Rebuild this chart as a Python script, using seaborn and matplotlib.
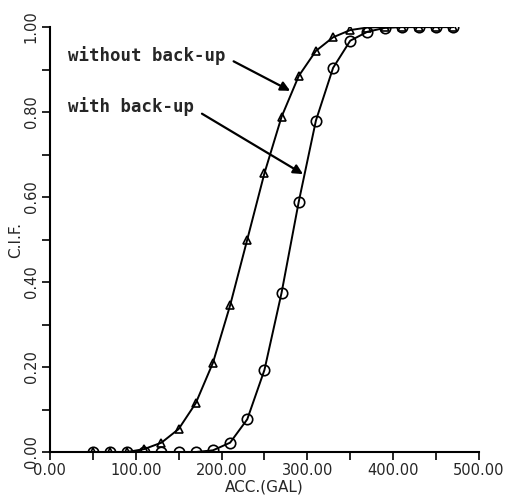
import matplotlib
matplotlib.use("Agg")
import matplotlib.pyplot as plt
from matplotlib.ticker import MultipleLocator, FormatStrFormatter
import seaborn as sns

# acceleration (gal) and C.I.F. values
acc = [50, 70, 90, 110, 130, 150, 170, 190, 210, 230, 250,
       270, 290, 310, 330, 350, 370, 390, 410, 430, 450, 470]
cif_without = [0.0, 0.0, 0.0, 0.007, 0.022, 0.054, 0.115, 0.21, 0.345, 0.50, 0.656,
               0.789, 0.885, 0.944, 0.976, 0.993, 0.999, 1.0, 1.0, 1.0, 1.0, 1.0]
cif_with = [0.0, 0.0, 0.0, 0.0, 0.0, 0.0, 0.0, 0.004, 0.022, 0.077, 0.193,
            0.375, 0.589, 0.78, 0.904, 0.968, 0.989, 0.998, 1.0, 1.0, 1.0, 1.0]

sns.set_style("ticks")
plt.rcParams["font.family"] = ["DejaVu Sans", "DejaVu Sans Mono"]

fig = plt.figure(figsize=(5.09, 4.97), dpi=100)
ax = fig.add_axes([0.098, 0.0905, 0.843, 0.855])

sns.lineplot(x=acc, y=cif_without, ax=ax, color="black", lw=1.4,
             marker="^", markersize=6, markerfacecolor="none",
             markeredgecolor="black", markeredgewidth=1.2)
sns.lineplot(x=acc, y=cif_with, ax=ax, color="black", lw=1.4,
             marker="o", markersize=7.5, markerfacecolor="none",
             markeredgecolor="black", markeredgewidth=1.2)

ax.set_xlim(0, 500)
ax.set_ylim(0, 1.0)
ax.xaxis.set_major_locator(MultipleLocator(100))
ax.xaxis.set_minor_locator(MultipleLocator(50))
ax.yaxis.set_major_locator(MultipleLocator(0.2))
ax.yaxis.set_minor_locator(MultipleLocator(0.1))
ax.xaxis.set_major_formatter(FormatStrFormatter("%.2f"))
ax.yaxis.set_major_formatter(FormatStrFormatter("%.2f"))
ax.tick_params(which="both", direction="out", length=6, width=1.2, color="black")
ax.tick_params(axis="both", labelsize=10.5, pad=2)
for lab in ax.get_yticklabels():
    lab.set_rotation(90)
    lab.set_va("center")

sns.despine(ax=ax)
for s in ("left", "bottom"):
    ax.spines[s].set_linewidth(1.5)
    ax.spines[s].set_color("black")

ax.set_xlabel("ACC.(GAL)", fontsize=11, labelpad=1)
ax.set_ylabel("C.I.F.", fontsize=11)
ax.yaxis.set_label_coords(-0.062, 0.5)

ann_style = dict(fontsize=12.5, family="DejaVu Sans Mono", fontweight="bold",
                 ha="left", va="center",
                 arrowprops=dict(arrowstyle="-|>", color="black", lw=1.6,
                                 mutation_scale=14, shrinkA=4, shrinkB=0,
                                 relpos=(1.0, 0.4)))
ax.annotate("without back-up", xy=(280, 0.85), xytext=(21, 0.934), **ann_style)
ax.annotate("with back-up", xy=(295, 0.654), xytext=(21, 0.812), **ann_style)

fig.savefig("out.png", dpi=100)
plt.close(fig)
